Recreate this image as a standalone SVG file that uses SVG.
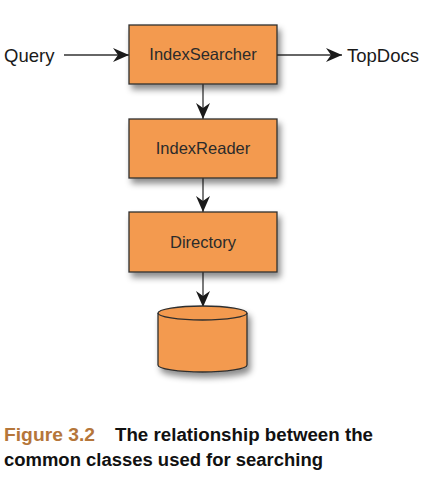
<svg xmlns="http://www.w3.org/2000/svg" width="428" height="487" viewBox="0 0 428 487">
<style>
.box{fill:#f39a4f;stroke:#2e2e2e;stroke-width:1.3}
.lbl{font-family:"Liberation Sans",Arial,sans-serif;font-size:16.5px;fill:#2b2b2b;text-anchor:middle}
.ext{font-family:"Liberation Sans",Arial,sans-serif;font-size:18.5px;fill:#1a1a1a}
.edge{stroke:#333;stroke-width:1.3;fill:none}
.cap{font-family:"Liberation Sans",Arial,sans-serif;font-size:18px;font-weight:bold;fill:#111}
</style>
<defs>
<filter id="sh" x="-20%" y="-20%" width="150%" height="160%">
<feDropShadow dx="3" dy="5" stdDeviation="3" flood-color="#000" flood-opacity="0.45"/>
</filter>
<marker id="ah" markerWidth="18" markerHeight="16" refX="16" refY="8" orient="auto" markerUnits="userSpaceOnUse">
<path d="M0,1 L16,8 L0,15 L5,8 Z" fill="#1a1a1a"/>
</marker>
</defs>
<g id="connectors">
<line class="edge" x1="64" y1="55" x2="129" y2="55" marker-end="url(#ah)"/>
<line class="edge" x1="277" y1="55" x2="342" y2="55" marker-end="url(#ah)"/>
<line class="edge" x1="203" y1="84" x2="203" y2="119" marker-end="url(#ah)"/>
<line class="edge" x1="203" y1="178" x2="203" y2="212" marker-end="url(#ah)"/>
<line class="edge" x1="203" y1="272" x2="203" y2="307" marker-end="url(#ah)"/>
</g>
<g id="query"><text class="ext" x="4" y="62">Query</text></g>
<g id="topdocs"><text class="ext" x="347" y="62">TopDocs</text></g>
<g id="indexsearcher">
<rect class="box" x="129" y="25" width="148" height="59" filter="url(#sh)"/>
<text class="lbl" x="203" y="60">IndexSearcher</text>
</g>
<g id="indexreader">
<rect class="box" x="129" y="119" width="148" height="59" filter="url(#sh)"/>
<text class="lbl" x="203" y="154">IndexReader</text>
</g>
<g id="directory">
<rect class="box" x="129" y="212" width="148" height="60" filter="url(#sh)"/>
<text class="lbl" x="203" y="248">Directory</text>
</g>
<g id="storage">
<path class="box" d="M158,313 L158,365 A44.5,7 0 0 0 247,365 L247,313 A44.5,7 0 0 0 158,313 Z" filter="url(#sh)"/>
<path class="box" d="M158,313 A44.5,7 0 0 0 247,313" style="fill:none"/>
</g>
<g id="caption">
<text class="cap" x="4" y="441" textLength="91" lengthAdjust="spacingAndGlyphs" fill="#b5763a" style="fill:#b5763a">Figure 3.2</text>
<text class="cap" x="115" y="441" textLength="258" lengthAdjust="spacingAndGlyphs">The relationship between the</text>
<text class="cap" x="4" y="466" textLength="319" lengthAdjust="spacingAndGlyphs">common classes used for searching</text>
</g>
</svg>
